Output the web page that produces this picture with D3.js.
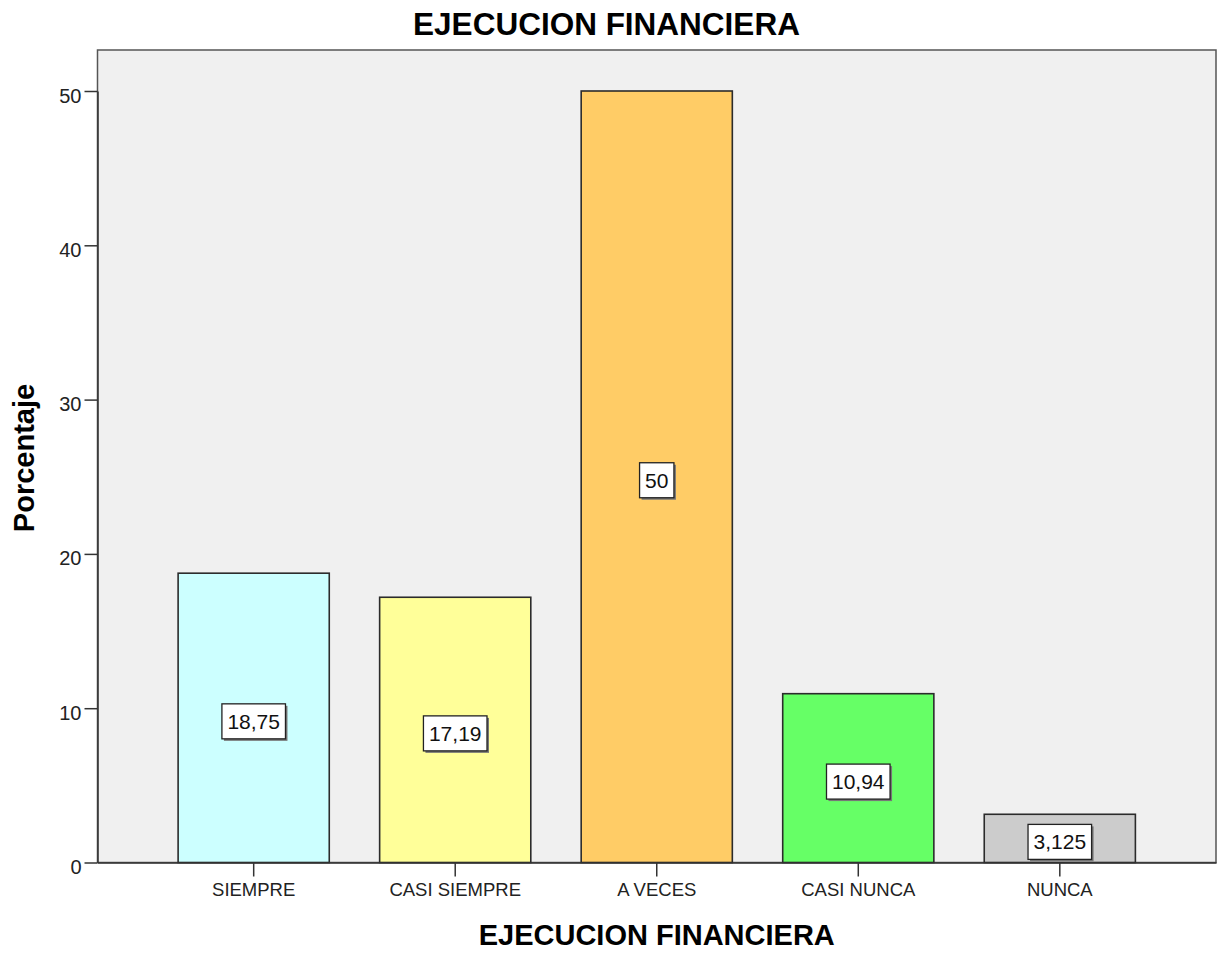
<!DOCTYPE html>
<html>
<head>
<meta charset="utf-8">
<script src="https://cdn.jsdelivr.net/npm/d3@7"></script>
<style>
  html, body { margin: 0; padding: 0; background: #ffffff; }
  svg { display: block; font-family: Arial, "Liberation Sans", sans-serif; }
</style>
</head>
<body>
<svg id="chart" width="1218" height="954"></svg>
<script>
// Frequency distribution of "EJECUCION FINANCIERA" responses
const categories = ["SIEMPRE", "CASI SIEMPRE", "A VECES", "CASI NUNCA", "NUNCA"];
const percentages = [18.75, 17.19, 50, 10.94, 3.125];
const valueLabels = ["18,75", "17,19", "50", "10,94", "3,125"];
const barColors = ["#ccffff", "#ffff99", "#ffcc66", "#66ff66", "#cccccc"];
const yTicks = [0, 10, 20, 30, 40, 50];

const svg = d3.select("#chart");
const plot = { left: 97.5, right: 1216, top: 50, bottom: 862.5 };

const x = d3.scaleBand()
  .domain(categories)
  .range([plot.left, plot.right])
  .paddingInner(0.25)
  .paddingOuter(0.4);

const y = d3.scaleLinear()
  .domain([0, 50])
  .range([plot.bottom, 91]);

// Plot background
svg.append("rect")
  .attr("x", plot.left).attr("y", plot.top)
  .attr("width", plot.right - plot.left)
  .attr("height", plot.bottom - plot.top)
  .attr("fill", "#f0f0f0")
  .attr("stroke", "#555").attr("stroke-width", 1.5);

// Bars
svg.append("g").selectAll("rect")
  .data(categories)
  .join("rect")
  .attr("x", d => x(d))
  .attr("y", (d, i) => y(percentages[i]))
  .attr("width", x.bandwidth())
  .attr("height", (d, i) => y(0) - y(percentages[i]))
  .attr("fill", (d, i) => barColors[i])
  .attr("stroke", "#2b2b2b")
  .attr("stroke-width", 1.6);

// Axes
const yAxis = svg.append("g")
  .attr("transform", `translate(${plot.left},0)`)
  .call(d3.axisLeft(y).tickValues(yTicks).tickSize(13).tickSizeOuter(0).tickPadding(3).tickFormat(d3.format("d")));
yAxis.select(".domain").attr("stroke", "#333").attr("stroke-width", 1.5);
yAxis.selectAll(".tick line").attr("stroke", "#333").attr("stroke-width", 1.5);
yAxis.selectAll(".tick text")
  .attr("font-size", 20).attr("fill", "#222")
  .attr("font-family", "Arial, 'Liberation Sans', sans-serif")
  .attr("dy", "0.55em");

const xAxis = svg.append("g")
  .attr("transform", `translate(0,${plot.bottom})`)
  .call(d3.axisBottom(x).tickSize(14).tickSizeOuter(0).tickPadding(6));
xAxis.select(".domain").attr("stroke", "#333").attr("stroke-width", 1.5);
xAxis.selectAll(".tick line").attr("stroke", "#333").attr("stroke-width", 1.5);
xAxis.selectAll(".tick text")
  .attr("font-size", 18.5).attr("fill", "#222")
  .attr("font-family", "Arial, 'Liberation Sans', sans-serif");

// Value label boxes at half bar height
const labels = svg.append("g").selectAll("g")
  .data(categories)
  .join("g")
  .attr("transform", (d, i) => `translate(${x(d) + x.bandwidth() / 2},${y(percentages[i] / 2) + 3.5})`);

labels.each(function(d, i) {
  const g = d3.select(this);
  const t = g.append("text")
    .text(valueLabels[i])
    .attr("text-anchor", "middle")
    .attr("dy", "0.36em")
    .attr("font-size", 21)
    .attr("fill", "#111");
  const w = t.node().getComputedTextLength() + 11;
  const h = 35;
  g.insert("rect", "text")
    .attr("x", -w / 2 + 2).attr("y", -h / 2 + 2)
    .attr("width", w).attr("height", h)
    .attr("fill", "#777");
  g.insert("rect", "text")
    .attr("x", -w / 2).attr("y", -h / 2)
    .attr("width", w).attr("height", h)
    .attr("fill", "#ffffff")
    .attr("stroke", "#222").attr("stroke-width", 1.3);
});

// Titles
svg.append("text")
  .attr("x", 606.5).attr("y", 35)
  .attr("text-anchor", "middle")
  .attr("font-size", 31.5).attr("font-weight", "bold").attr("fill", "#000")
  .text("EJECUCION FINANCIERA");

svg.append("text")
  .attr("x", (plot.left + plot.right) / 2).attr("y", 945)
  .attr("text-anchor", "middle")
  .attr("font-size", 29).attr("font-weight", "bold").attr("fill", "#000")
  .text("EJECUCION FINANCIERA");

svg.append("text")
  .attr("transform", `translate(34,458) rotate(-90)`)
  .attr("text-anchor", "middle")
  .attr("font-size", 29).attr("font-weight", "bold").attr("fill", "#000")
  .text("Porcentaje");
</script>
</body>
</html>
